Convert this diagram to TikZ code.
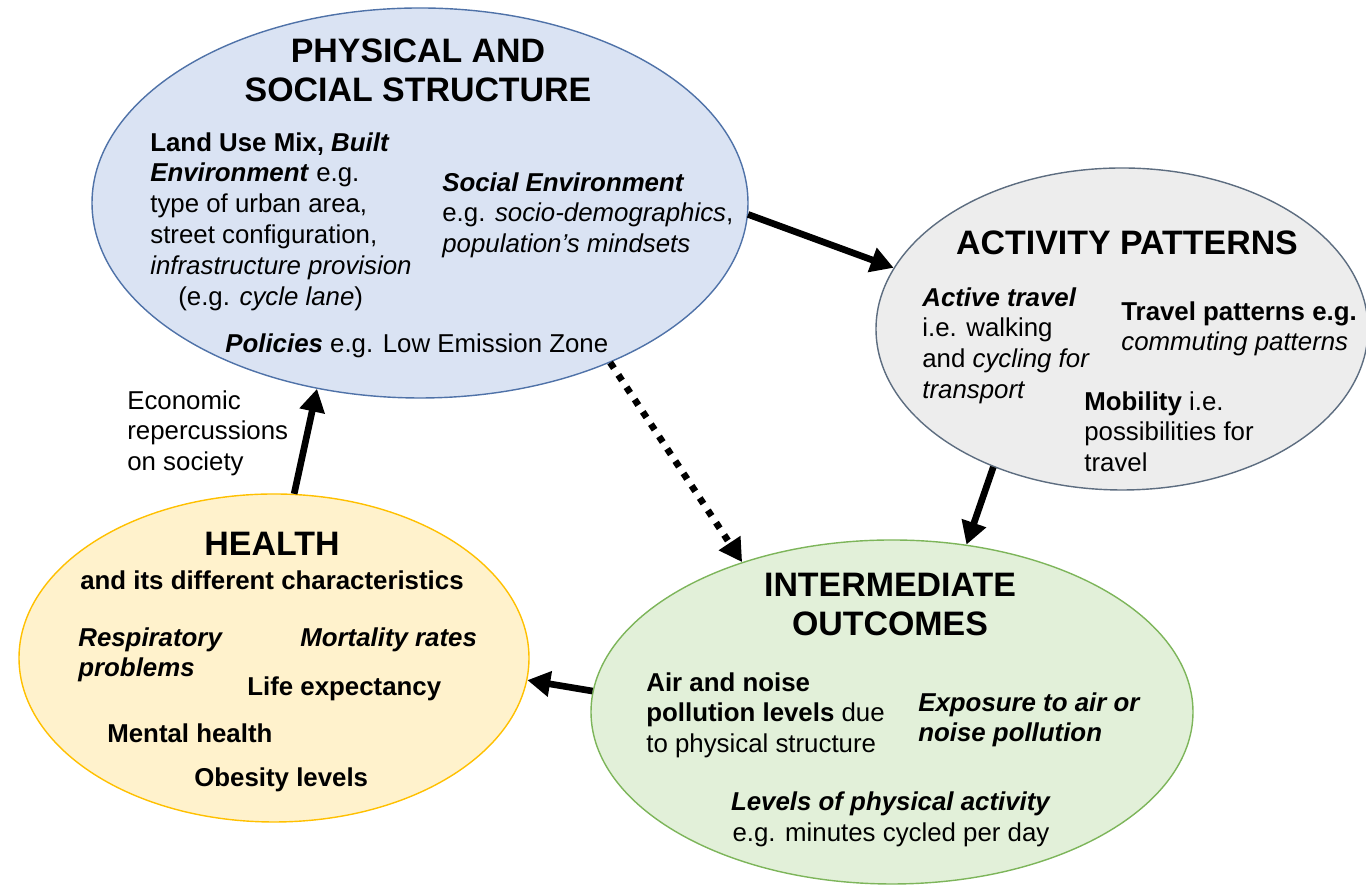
\documentclass[tikz,border=0pt]{standalone}
\usepackage{fontspec}
\setmainfont{Liberation Sans}
\usepackage{tikz}
\usetikzlibrary{shapes,arrows.meta}

\definecolor{physfill}{HTML}{DAE3F3}
\definecolor{physline}{HTML}{4F72A8}
\definecolor{actfill}{HTML}{EDEDED}
\definecolor{actline}{HTML}{5D6D80}
\definecolor{healthfill}{HTML}{FFF2CC}
\definecolor{healthline}{HTML}{FFC000}
\definecolor{outfill}{HTML}{E2F0D9}
\definecolor{outline}{HTML}{7DB55A}

\begin{document}
\begin{tikzpicture}[
  bubble/.style={ellipse, draw, line width=0.8pt, inner sep=0pt},
  ttl/.style={font=\bfseries\fontsize{19.3}{22.1}\selectfont, align=center, inner sep=0pt},
  txt/.style={font=\fontsize{14.7}{17.6}\selectfont, align=left, anchor=north west, inner sep=0pt},
  arr/.style={line width=3.8pt, -{Triangle[length=13pt,width=14pt]}}
]
  \useasboundingbox (0,0) rectangle (27.32,17.76);

  % the four bubbles
  \node[bubble, draw=physline, fill=physfill, minimum width=13.12cm, minimum height=7.8cm] (phys) at (8.4,13.7) {};
  \node[bubble, draw=actline, fill=actfill, minimum width=9.84cm, minimum height=6.44cm] (act) at (22.44,11.18) {};
  \node[bubble, draw=healthline, fill=healthfill, minimum width=10.2cm, minimum height=6.56cm] (health) at (5.48,4.6) {};
  \node[bubble, draw=outline, fill=outfill, minimum width=12.04cm, minimum height=6.88cm] (out) at (17.84,3.52) {};

  % physical and social structure
  \node[ttl] (physttl) at (8.36,16.35) {PHYSICAL AND\\SOCIAL STRUCTURE};
  \node[txt] (landuse) at (3.0,15.12) {\textbf{Land Use Mix, \textit{Built}}\\
    \textbf{\textit{Environment}} e.g.\\
    type of urban area,\\
    street configuration,\\
    \textit{infrastructure provision}\\
    \hspace*{0.56cm}(e.g. \textit{cycle lane})};
  \node[txt] (social) at (8.84,14.32) {\textbf{\textit{Social Environment}}\\
    e.g. \textit{socio-demographics},\\
    \textit{population’s mindsets}};
  \node[txt] (policies) at (4.5,11.1) {\textbf{\textit{Policies}} e.g. Low Emission Zone};

  % activity patterns
  \node[ttl] (actttl) at (22.54,12.9) {ACTIVITY PATTERNS};
  \node[txt] (active) at (18.44,12.02) {\textbf{\textit{Active travel}}\\
    i.e. walking\\
    and \textit{cycling for}\\
    \textit{transport}};
  \node[txt] (travel) at (22.42,11.74) {\textbf{Travel patterns e.g.}\\
    \textit{commuting patterns}};
  \node[txt] (mobility) at (21.68,9.94) {\textbf{Mobility} i.e.\\
    possibilities for\\
    travel};

  % health
  \node[ttl] (healthttl) at (5.44,6.88) {HEALTH};
  \node[txt, anchor=center] (healthsub) at (5.44,6.16) {\textbf{and its different characteristics}};
  \node[txt] (resp) at (1.56,5.22) {\textbf{\textit{Respiratory}}\\\textbf{\textit{problems}}};
  \node[txt] (mort) at (6.0,5.22) {\textbf{\textit{Mortality rates}}};
  \node[txt] (life) at (4.94,4.24) {\textbf{Life expectancy}};
  \node[txt] (mental) at (2.14,3.30) {\textbf{Mental health}};
  \node[txt] (obes) at (3.88,2.42) {\textbf{Obesity levels}};

  % intermediate outcomes
  \node[ttl] (outttl) at (17.8,5.67) {INTERMEDIATE\\OUTCOMES};
  \node[txt] (airnoise) at (12.92,4.32) {\textbf{Air and noise}\\
    \textbf{pollution levels} due\\
    to physical structure};
  \node[txt] (exposure) at (18.36,3.92) {\textbf{\textit{Exposure to air or}}\\
    \textbf{\textit{noise pollution}}};
  \node[txt, anchor=center, align=center] (levels) at (17.82,1.38) {\textbf{\textit{Levels of physical activity}}\\
    e.g. minutes cycled per day};

  % connectors
  \draw[arr] (phys.-2) -- (act.165);
  \draw[arr] (act.227) -- (out.66);
  \draw[arr, dash pattern=on 3.8pt off 4.6pt] (phys.-40) -- (out.135);
  \draw[arr] (out.176) -- (health.-5);
  \draw[arr] (health.83) -- (phys.241);
  \node[txt] (econ) at (2.54,9.96) {Economic\\repercussions\\on society};
\end{tikzpicture}
\end{document}
